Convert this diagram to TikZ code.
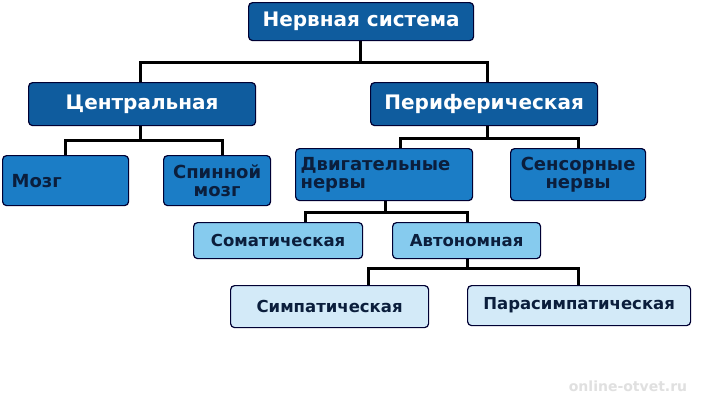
\documentclass[tikz,border=0pt]{standalone}
\usepackage{fontspec}
\setmainfont{DejaVu Sans}
\begin{document}
\begin{tikzpicture}[x=1pt,y=-1pt,
  box/.style={draw=black!80!blue, line width=1.2pt, rounded corners=4pt, anchor=north west, inner sep=0pt},
  dark/.style={box, fill=c1, text=white, font=\bfseries\fontsize{20}{22}\selectfont},
  mid/.style={box, fill=c2, text=c4, font=\bfseries\fontsize{18}{18}\selectfont},
  lite/.style={box, fill=c3, text=c4, font=\bfseries\fontsize{16.5}{18}\selectfont},
  vlite/.style={box, fill=c5, text=c4, font=\bfseries\fontsize{16.5}{18}\selectfont},
  ln/.style={line width=3pt, black}]
\definecolor{c1}{HTML}{0F5C9E}
\definecolor{c2}{HTML}{1B7DC6}
\definecolor{c3}{HTML}{86CBEE}
\definecolor{c4}{HTML}{0B1E3C}
\definecolor{c5}{HTML}{D3EAF8}
\useasboundingbox (0,0) rectangle (701,400);
\fill[white] (0,0) rectangle (701,400);
% connectors
\draw[ln] (360,40) -- (360,62) (140,82) |- (487,62) -- (487,82);
\draw[ln] (140,125) -- (140,140) (65,155) |- (222,140) -- (222,155);
\draw[ln] (487,125) -- (487,138) (400,148) |- (578,138) -- (578,148);
\draw[ln] (385,200) -- (385,212) (305,222) |- (467,212) -- (467,222);
\draw[ln] (467,258) -- (467,268) (368,285) |- (578,268) -- (578,285);
% boxes
\node[dark, minimum width=225pt, minimum height=38pt] (ns) at (248,2) {Нервная система};
\node[dark, minimum width=227pt, minimum height=43pt] (c) at (28,82) {Центральная};
\node[dark, minimum width=227pt, minimum height=43pt] (p) at (370,82) {Периферическая};
\node[mid, minimum height=50pt, text width=108pt, align=left, inner xsep=9pt] (m) at (2,155) {Мозг};
\node[mid, minimum width=107pt, minimum height=50pt, align=center] (sm) at (163,155) {Спинной\\мозг};
\node[mid, minimum height=52pt, text width=167pt, align=left, inner xsep=5pt] (d) at (295,148) {Двигательные\\нервы};
\node[mid, minimum width=135pt, minimum height=52pt, align=center] (s) at (510,148) {Сенсорные\\нервы};
\node[lite, minimum width=169pt, minimum height=36pt] (so) at (193,222) {Соматическая};
\node[lite, minimum width=148pt, minimum height=36pt] (a) at (392,222) {Автономная};
\node[vlite, minimum width=198pt, minimum height=42pt] (sy) at (230,285) {Симпатическая};
\node[vlite, minimum width=223pt, minimum height=40pt] (pa) at (467,285) {Парасимпатическая};
\node[text=black!12, font=\bfseries\fontsize{14}{15}\selectfont] (w) at (628,386) {online-otvet.ru};
\end{tikzpicture}
\end{document}
